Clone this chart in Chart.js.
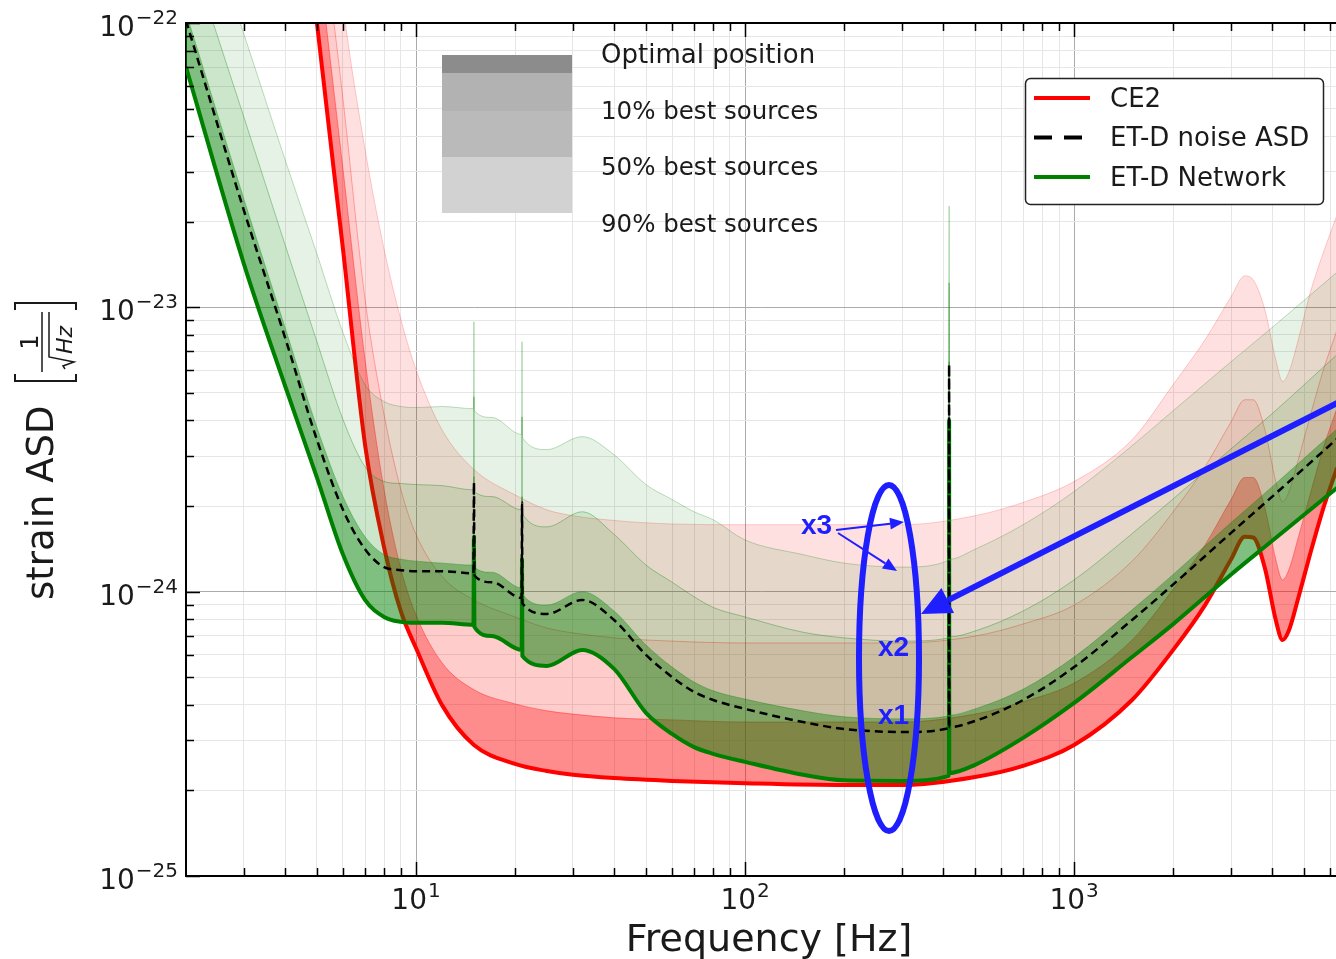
<!DOCTYPE html>
<html>
<head>
<meta charset="utf-8">
<title>Strain ASD - CE2 vs ET-D network</title>
<script src="https://cdn.jsdelivr.net/npm/chart.js@4.4.1/dist/chart.umd.min.js"></script>
<style>
  html, body { margin: 0; padding: 0; background: #fff; overflow: hidden; }
  #wrap { position: relative; width: 1336px; height: 959px; }
</style>
</head>
<body>
<div id="wrap"><canvas id="asd-chart"></canvas></div>
<script>
// === Data ===

// ET-D family: frequencies [Hz]
const etFreq = [2, 3, 4, 5, 6, 7, 8, 9, 10, 12, 14.95, 15, 15.05, 17, 20.95, 21, 21.05, 25, 32,
  40, 50, 60, 70, 80, 100, 150, 200, 300, 416.5, 417, 417.5, 500, 700, 1000, 1500, 2000, 3000, 4000, 6300];

// ET-D noise ASD (dashed)
const etdNoise = [1.02e-22, 2.19e-23, 7.83e-24, 3.42e-24, 1.94e-24, 1.41e-24, 1.22e-24, 1.19e-24, 1.18e-24, 1.18e-24,
  1.16e-24, 2.42e-24, 1.14e-24, 1.08e-24, 9.5e-25, 2.06e-24, 9.1e-25, 8.35e-25, 9.35e-25,
  7.95e-25, 5.99e-25, 5.01e-25, 4.44e-25, 4.16e-25, 3.87e-25, 3.48e-25, 3.29e-25, 3.21e-25, 3.31e-25,
  6.29e-24, 3.34e-25, 3.51e-25, 4.16e-25, 5.43e-25, 7.95e-25, 1.06e-24, 1.61e-24, 2.16e-24, 3.45e-24];

// ET-D network, optimal position
const etNetOpt = [7.0e-23, 1.42e-23, 5.3e-24, 2.52e-24, 1.35e-24, 9.35e-25, 8.15e-25, 7.83e-25, 7.77e-25, 7.77e-25,
  7.65e-25, 1.56e-24, 7.51e-25, 6.98e-25, 6.24e-25, 1.30e-24, 5.94e-25, 5.48e-25, 6.24e-25,
  5.35e-25, 3.75e-25, 3.16e-25, 2.84e-25, 2.69e-25, 2.52e-25, 2.27e-25, 2.17e-25, 2.16e-25, 2.25e-25,
  4.0e-24, 2.30e-25, 2.46e-25, 3.06e-25, 4.06e-25, 5.89e-25, 7.69e-25, 1.15e-24, 1.51e-24, 2.32e-24];

// ET-D network, 10% best sources
const etNet10 = [1.09e-22, 2.40e-23, 8.5e-24, 3.78e-24, 2.16e-24, 1.56e-24, 1.35e-24, 1.30e-24, 1.28e-24, 1.26e-24,
  1.24e-24, 2.54e-24, 1.22e-24, 1.17e-24, 1.03e-24, 2.16e-24, 9.8e-25, 8.97e-25, 1.0e-24,
  8.55e-25, 6.49e-25, 5.43e-25, 4.81e-25, 4.48e-25, 4.19e-25, 3.81e-25, 3.63e-25, 3.57e-25, 3.65e-25,
  6.44e-24, 3.68e-25, 3.87e-25, 4.54e-25, 5.89e-25, 8.63e-25, 1.15e-24, 1.75e-24, 2.34e-24, 3.74e-24];

// ET-D network, 50% best sources
const etNet50 = [1.96e-22, 4.66e-23, 1.66e-23, 7.57e-24, 4.03e-24, 2.75e-24, 2.44e-24, 2.40e-24, 2.38e-24, 2.36e-24,
  2.28e-24, 4.85e-24, 2.25e-24, 2.16e-24, 1.94e-24, 4.12e-24, 1.88e-24, 1.69e-24, 1.91e-24,
  1.59e-24, 1.24e-24, 1.08e-24, 9.6e-25, 8.8e-25, 8.15e-25, 7.2e-25, 6.88e-25, 6.7e-25, 6.88e-25,
  1.22e-23, 6.93e-25, 7.27e-25, 8.55e-25, 1.10e-24, 1.60e-24, 2.12e-24, 3.18e-24, 4.23e-24, 6.82e-24];

// ET-D network, 90% best sources
const etNet90 = [3.74e-22, 9.13e-23, 3.31e-23, 1.54e-23, 8.15e-24, 5.35e-24, 4.66e-24, 4.48e-24, 4.44e-24, 4.48e-24,
  4.40e-24, 8.9e-24, 4.33e-24, 4.10e-24, 3.57e-24, 7.57e-24, 3.48e-24, 3.16e-24, 3.51e-24,
  3.03e-24, 2.38e-24, 2.11e-24, 1.91e-24, 1.79e-24, 1.52e-24, 1.35e-24, 1.26e-24, 1.22e-24, 1.29e-24,
  2.27e-23, 1.30e-24, 1.41e-24, 1.72e-24, 2.25e-24, 3.26e-24, 4.33e-24, 6.44e-24, 8.5e-24, 1.33e-23];

// CE2 family: frequencies [Hz]
const ceFreq = [2, 4, 5, 6, 7, 8, 9, 10, 12, 15, 20, 25, 30, 40, 60, 100, 200, 300, 500, 700,
  1000, 1500, 2000, 2500, 3000, 3300, 3500, 3800, 4100, 4300, 4500, 4800, 5200, 5700, 6300];

const ce2Opt = [3.5e-18, 1.2e-21, 1.0e-22, 1.60e-23, 3.29e-24, 1.43e-24, 8.5e-25, 6.34e-25, 3.99e-25, 2.89e-25,
  2.48e-25, 2.34e-25, 2.27e-25, 2.21e-25, 2.16e-25, 2.12e-25, 2.09e-25, 2.09e-25, 2.23e-25, 2.44e-25,
  2.89e-25, 4.16e-25, 6.24e-25, 8.97e-25, 1.30e-24, 1.56e-24, 1.55e-24, 1.21e-24, 7.95e-25, 6.76e-25,
  7.33e-25, 9.5e-25, 1.34e-24, 1.94e-24, 2.73e-24];

const ce2P10 = [8e-18, 2.35e-21, 1.93e-22, 3.06e-23, 6.55e-24, 2.28e-24, 1.20e-24, 8.28e-25, 5.62e-25, 4.52e-25,
  4.03e-25, 3.81e-25, 3.71e-25, 3.60e-25, 3.54e-25, 3.48e-25, 3.48e-25, 3.48e-25, 3.71e-25, 4.10e-25,
  4.77e-25, 6.76e-25, 1.02e-24, 1.46e-24, 2.11e-24, 2.52e-24, 2.52e-24, 1.97e-24, 1.30e-24, 1.10e-24,
  1.20e-24, 1.55e-24, 2.17e-24, 3.16e-24, 4.44e-24];

const ce2P50 = [1.5e-17, 4.0e-21, 3.2e-22, 5.4e-23, 1.07e-23, 4.19e-24, 2.28e-24, 1.59e-24, 1.13e-24, 9.35e-25,
  8.15e-25, 7.45e-25, 7.16e-25, 6.88e-25, 6.70e-25, 6.60e-25, 6.60e-25, 6.60e-25, 6.98e-25, 7.70e-25,
  8.97e-25, 1.28e-24, 1.91e-24, 2.75e-24, 3.96e-24, 4.73e-24, 4.73e-24, 3.71e-24, 2.44e-24, 2.07e-24,
  2.25e-24, 2.91e-24, 4.09e-24, 5.94e-24, 8.35e-24];

const ce2P90 = [4e-17, 1.0e-20, 8.2e-22, 1.16e-22, 3.60e-23, 1.60e-23, 9.05e-24, 6.04e-24, 3.71e-24, 2.69e-24,
  2.19e-24, 1.94e-24, 1.85e-24, 1.78e-24, 1.73e-24, 1.72e-24, 1.72e-24, 1.72e-24, 1.85e-24, 2.06e-24,
  2.44e-24, 3.42e-24, 5.35e-24, 7.69e-24, 1.09e-23, 1.29e-23, 1.25e-23, 9.8e-24, 6.55e-24, 5.48e-24,
  5.94e-24, 7.69e-24, 1.11e-23, 1.54e-23, 2.12e-23];

// tick labels (powers of ten)
const xTickExps = [1, 2, 3];
const yTickExps = [-25, -24, -23, -22];

const seriesLabels = ["CE2", "ET-D noise ASD", "ET-D Network"];
const shadeLabels = ["Optimal position", "10% best sources", "50% best sources", "90% best sources"];

// === Helpers ===
const pts = (freq, vals) => freq.map((f, i) => ({ x: f, y: vals[i] }));
const isDecade = v => Math.abs(Math.log10(v) - Math.round(Math.log10(v))) < 1e-6;

function logTicks(min, max) {
  const out = [];
  for (let e = Math.floor(Math.log10(min)); e <= Math.ceil(Math.log10(max)); e++) {
    for (let m = 1; m <= 9; m++) {
      const v = m * Math.pow(10, e);
      if (v >= min * 0.999999 && v <= max * 1.000001) out.push({ value: v });
    }
  }
  return out;
}

const FONT = '"DejaVu Sans", sans-serif';
const BLUE = "#1e1eff";
const TXT = "#1a1a1a";

// === Decorations: spines, inward ticks, labels, legends, annotations ===
function drawPow(ctx, exp, x, baseY, align) {
  const expStr = String(exp).replace("-", "\u2212");
  ctx.font = "28px " + FONT;
  const w10 = ctx.measureText("10").width;
  ctx.font = "20px " + FONT;
  const we = ctx.measureText(expStr).width;
  const start = align === "right" ? x - w10 - we - 1 : x - (w10 + we + 1) / 2;
  ctx.textAlign = "left";
  ctx.textBaseline = "alphabetic";
  ctx.font = "28px " + FONT;
  ctx.fillText("10", start, baseY);
  ctx.font = "20px " + FONT;
  ctx.fillText(expStr, start + w10 + 1, baseY - 12);
}

function arrow(ctx, x0, y0, x1, y1, width, headLen, headHalf) {
  const dx = x1 - x0, dy = y1 - y0, L = Math.hypot(dx, dy);
  const ux = dx / L, uy = dy / L;
  const bx = x1 - ux * headLen, by = y1 - uy * headLen;
  ctx.lineWidth = width;
  ctx.beginPath();
  ctx.moveTo(x0, y0);
  ctx.lineTo(bx, by);
  ctx.stroke();
  ctx.beginPath();
  ctx.moveTo(x1, y1);
  ctx.lineTo(bx - uy * headHalf, by + ux * headHalf);
  ctx.lineTo(bx + uy * headHalf, by - ux * headHalf);
  ctx.closePath();
  ctx.fill();
}

const decorPlugin = {
  id: "decor",
  afterDraw(chart) {
    const { ctx, chartArea: a, scales: { x, y } } = chart;
    ctx.save();

    // top spine
    ctx.strokeStyle = "#000";
    ctx.lineWidth = 2;
    ctx.beginPath();
    ctx.moveTo(a.left, a.top);
    ctx.lineTo(a.right, a.top);
    ctx.stroke();

    // inward ticks
    ctx.lineWidth = 1.5;
    ctx.beginPath();
    x.ticks.forEach(t => {
      const px = Math.round(x.getPixelForValue(t.value)) + 0.5;
      if (px < a.left + 2) return;
      const len = isDecade(t.value) ? 14 : 8;
      ctx.moveTo(px, a.bottom);
      ctx.lineTo(px, a.bottom - len);
      ctx.moveTo(px, a.top);
      ctx.lineTo(px, a.top + len);
    });
    y.ticks.forEach(t => {
      const py = Math.round(y.getPixelForValue(t.value)) + 0.5;
      const len = isDecade(t.value) ? 14 : 8;
      ctx.moveTo(a.left, py);
      ctx.lineTo(a.left + len, py);
    });
    ctx.stroke();

    // tick labels
    ctx.fillStyle = TXT;
    yTickExps.forEach(e => {
      const py = y.getPixelForValue(Math.pow(10, e));
      drawPow(ctx, e, 178, py + 13, "right");
    });
    xTickExps.forEach(e => {
      const px = x.getPixelForValue(Math.pow(10, e));
      drawPow(ctx, e, px, a.bottom + 33, "center");
    });

    // x title
    ctx.font = "38px " + FONT;
    ctx.textAlign = "center";
    ctx.textBaseline = "alphabetic";
    ctx.fillText("Frequency [Hz]", 769, 951);

    // y title with bracketed 1/sqrt(Hz)
    ctx.save();
    ctx.translate(53, 600);
    ctx.rotate(-Math.PI / 2);
    ctx.font = "37px " + FONT;
    ctx.textAlign = "left";
    ctx.fillText("strain ASD", 0, 0);
    ctx.strokeStyle = TXT;
    ctx.lineWidth = 2;
    ctx.beginPath();
    ctx.moveTo(226, -38); ctx.lineTo(219, -38); ctx.lineTo(219, 23); ctx.lineTo(226, 23);
    ctx.moveTo(290, -38); ctx.lineTo(297, -38); ctx.lineTo(297, 23); ctx.lineTo(290, 23);
    ctx.stroke();
    ctx.lineWidth = 1.5;
    ctx.beginPath();
    ctx.moveTo(228, -11); ctx.lineTo(288, -11);
    ctx.moveTo(231, 12); ctx.lineTo(234, 10); ctx.lineTo(238, 21); ctx.lineTo(243, -4); ctx.lineTo(288, -4);
    ctx.stroke();
    ctx.font = "24px " + FONT;
    ctx.textAlign = "center";
    ctx.fillText("1", 258, -15);
    ctx.font = "italic 22px " + FONT;
    ctx.textAlign = "left";
    ctx.fillText("Hz", 246, 19);
    ctx.restore();

    // shade legend (source fractions)
    const shades = ["#8c8c8c", "#b2b2b2", "#bababa", "#d2d2d2"];
    const edges = [55, 73, 111, 157, 213];
    shades.forEach((c, i) => {
      ctx.fillStyle = c;
      ctx.fillRect(442, edges[i], 130, edges[i + 1] - edges[i]);
    });
    ctx.fillStyle = TXT;
    ctx.textAlign = "left";
    ctx.textBaseline = "middle";
    [56, 113, 169, 226].forEach((ty, i) => {
      ctx.font = (i === 0 ? "26px " : "24.5px ") + FONT;
      ctx.fillText(shadeLabels[i], 601, ty);
    });

    // series legend
    ctx.font = "26px " + FONT;
    ctx.fillStyle = "#fff";
    ctx.strokeStyle = "#222";
    ctx.lineWidth = 1.5;
    ctx.beginPath();
    ctx.roundRect(1025.5, 78.5, 298, 126, 5);
    ctx.fill();
    ctx.stroke();
    const ds = chart.data.datasets;
    const legendItems = [ds[5], ds[0], ds[1]];
    legendItems.forEach((d, i) => {
      const ly = 98 + i * 39.5;
      ctx.strokeStyle = d.borderColor;
      ctx.lineWidth = 4;
      ctx.setLineDash(d.borderDash ? [18, 12] : []);
      ctx.beginPath();
      ctx.moveTo(1034, ly);
      ctx.lineTo(1090, ly);
      ctx.stroke();
      ctx.setLineDash([]);
      ctx.fillStyle = TXT;
      ctx.fillText(seriesLabels[i], 1110, ly + 2);
    });

    // annotations
    ctx.strokeStyle = BLUE;
    ctx.fillStyle = BLUE;
    ctx.lineWidth = 6;
    ctx.beginPath();
    ctx.ellipse(889, 658, 30, 173, 0, 0, Math.PI * 2);
    ctx.stroke();
    arrow(ctx, 1345, 399, 921, 614, 6, 30, 14);
    arrow(ctx, 836, 530, 904, 522, 2, 14, 6);
    arrow(ctx, 838, 533, 897, 571, 2, 14, 6);
    ctx.font = "bold 28px 'Liberation Sans', Arial, sans-serif";
    ctx.textAlign = "left";
    ctx.textBaseline = "middle";
    ctx.fillText("x3", 801, 526);
    ctx.fillText("x2", 878, 648);
    ctx.fillText("x1", 878, 716);

    ctx.restore();
  }
};

// === Chart ===
const redBand = ["rgba(255,0,0,0.45)", "rgba(255,0,0,0.2)", "rgba(255,0,0,0.12)"];
const greenBand = ["rgba(0,128,0,0.5)", "rgba(0,128,0,0.2)", "rgba(0,128,0,0.1)"];
const band = c => ({ above: c, below: c });

const gridColor = ctx => (ctx.tick && isDecade(ctx.tick.value)) ? "#ababab" : "#e6e6e6";

new Chart(document.getElementById("asd-chart"), {
  type: "line",
  data: {
    datasets: [
      { label: "ET-D noise ASD", data: pts(etFreq, etdNoise), borderColor: "#000", borderWidth: 2.5,
        borderDash: [8, 5], fill: false, order: 0 },
      { label: "ET-D Network", data: pts(etFreq, etNetOpt), borderColor: "#008000", borderWidth: 4,
        fill: false, order: 1 },
      { label: "ET-D 10%", data: pts(etFreq, etNet10), borderColor: "rgba(0,128,0,0.35)", borderWidth: 1,
        fill: { target: 1, ...band(greenBand[0]) }, order: 2 },
      { label: "ET-D 50%", data: pts(etFreq, etNet50), borderColor: "rgba(0,128,0,0.35)", borderWidth: 1,
        fill: { target: 2, ...band(greenBand[1]) }, order: 3 },
      { label: "ET-D 90%", data: pts(etFreq, etNet90), borderColor: "rgba(0,128,0,0.25)", borderWidth: 1,
        fill: { target: 3, ...band(greenBand[2]) }, order: 4 },
      { label: "CE2", data: pts(ceFreq, ce2Opt), borderColor: "#ff0000", borderWidth: 4,
        fill: false, order: 5 },
      { label: "CE2 10%", data: pts(ceFreq, ce2P10), borderColor: "rgba(255,0,0,0.4)", borderWidth: 1,
        fill: { target: 5, ...band(redBand[0]) }, order: 6 },
      { label: "CE2 50%", data: pts(ceFreq, ce2P50), borderColor: "rgba(255,0,0,0.3)", borderWidth: 1,
        fill: { target: 6, ...band(redBand[1]) }, order: 7 },
      { label: "CE2 90%", data: pts(ceFreq, ce2P90), borderColor: "rgba(255,0,0,0.2)", borderWidth: 1,
        fill: { target: 7, ...band(redBand[2]) }, order: 8 }
    ]
  },
  options: {
    responsive: true,
    maintainAspectRatio: false,
    animation: false,
    layout: { padding: { top: 23, right: 0, left: 0, bottom: 0 } },
    elements: {
      point: { radius: 0, hoverRadius: 0 },
      line: { cubicInterpolationMode: "monotone", capBezierPoints: false, borderJoinStyle: "round" }
    },
    plugins: { legend: { display: false }, tooltip: { enabled: false } },
    scales: {
      x: {
        type: "logarithmic",
        min: 2,
        max: 6250,
        afterBuildTicks: s => { s.ticks = logTicks(s.min, s.max); },
        afterFit: s => { s.height = 83; },
        ticks: { display: false },
        grid: { color: gridColor, lineWidth: 1, drawTicks: false },
        border: { display: true, color: "#000", width: 2 }
      },
      y: {
        type: "logarithmic",
        min: 1e-25,
        max: 1e-22,
        afterBuildTicks: s => { s.ticks = logTicks(s.min, s.max); },
        afterFit: s => { s.width = 186; },
        ticks: { display: false },
        grid: { color: gridColor, lineWidth: 1, drawTicks: false },
        border: { display: true, color: "#000", width: 2 }
      }
    }
  },
  plugins: [decorPlugin]
});
</script>
</body>
</html>
